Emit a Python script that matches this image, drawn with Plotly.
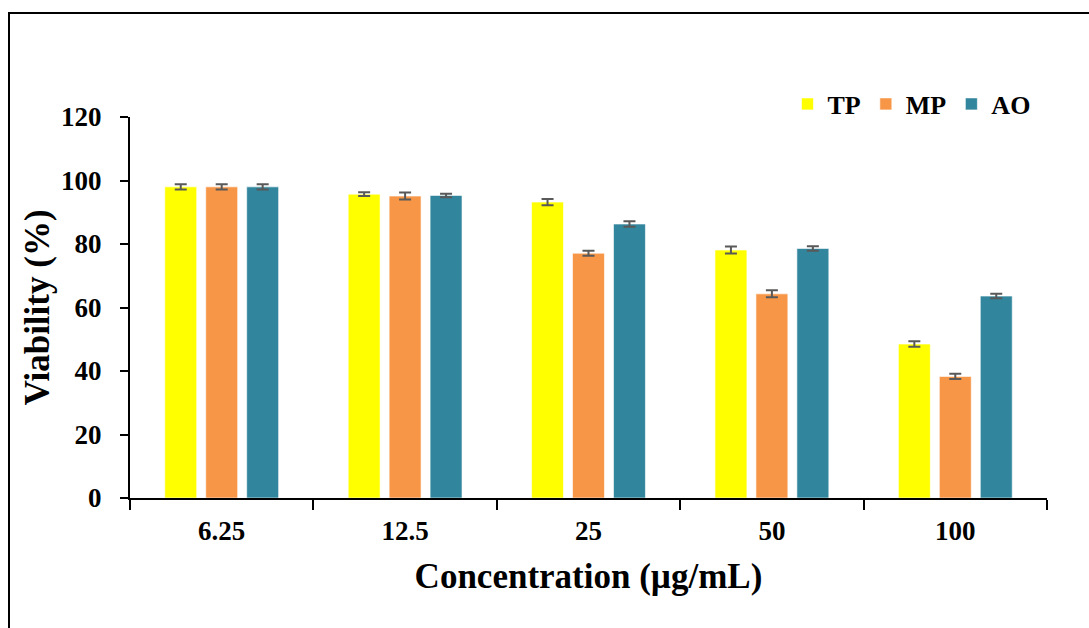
import plotly.graph_objects as go

concentrations = ["6.25", "12.5", "25", "50", "100"]
series_names = ["TP", "MP", "AO"]
tp_values = [98.0, 95.7, 93.2, 78.1, 48.5]
mp_values = [98.0, 95.1, 77.1, 64.3, 38.3]
ao_values = [98.0, 95.3, 86.3, 78.6, 63.6]
tp_errors = [0.85, 0.6, 1.0, 1.1, 0.85]
mp_errors = [0.85, 1.1, 0.8, 1.1, 0.8]
ao_errors = [0.8, 0.55, 0.9, 0.7, 0.7]
colors = ["#FFFF00", "#F79646", "#31859C"]

FONT = "Liberation Serif"

fig = go.Figure()
for name, vals, errs, col in zip(series_names,
                                 [tp_values, mp_values, ao_values],
                                 [tp_errors, mp_errors, ao_errors],
                                 colors):
    fig.add_trace(go.Bar(
        x=concentrations, y=vals, name=name,
        marker=dict(color=col, line=dict(color="rgba(255,255,255,0.6)", width=1)),
        error_y=dict(type="data", array=errs, visible=True,
                     color="#595959", thickness=2, width=6),
    ))

fig.update_layout(
    width=1089, height=628,
    margin=dict(l=130, r=42, t=117, b=130),
    paper_bgcolor="white", plot_bgcolor="white",
    barmode="group", bargap=0.33, bargroupgap=0.22,
    font=dict(family=FONT, color="black", weight="bold"),
    showlegend=True,
    legend=dict(orientation="h", x=0.717, y=(498 - 104) / 381, xanchor="left", yanchor="middle",
                font=dict(family=FONT, size=26, color="black", weight="bold"),
                itemwidth=30, bgcolor="rgba(0,0,0,0)"),
    xaxis=dict(
        showline=True, linecolor="black", linewidth=2,
        ticks="outside", tickson="boundaries", ticklen=10, tickwidth=1.5, tickcolor="black",
        tickfont=dict(family=FONT, size=27, color="black", weight="bold"),
        ticklabelstandoff=8,
        title=dict(text="Concentration (µg/mL)",
                   font=dict(family=FONT, size=35, color="black", weight="bold"), standoff=18),
        showgrid=False, zeroline=False,
    ),
    yaxis=dict(
        range=[0, 120], dtick=20,
        showline=True, linecolor="black", linewidth=2,
        ticks="outside", ticklen=8, tickwidth=1.5, tickcolor="black",
        tickfont=dict(family=FONT, size=27, color="black", weight="bold"),
        ticklabelstandoff=13,
        title=dict(text="Viability (%)",
                   font=dict(family=FONT, size=35, color="black", weight="bold"), standoff=1),
        showgrid=False, zeroline=False,
    ),
)

# Outer frame around the chart
fig.add_shape(type="rect", xref="paper", yref="paper",
              x0=(9 - 130) / 917, x1=1.2, y0=-0.6, y1=(498 - 13) / 381,
              line=dict(color="black", width=2), fillcolor="rgba(0,0,0,0)", layer="below")

fig.write_html("out.html")
